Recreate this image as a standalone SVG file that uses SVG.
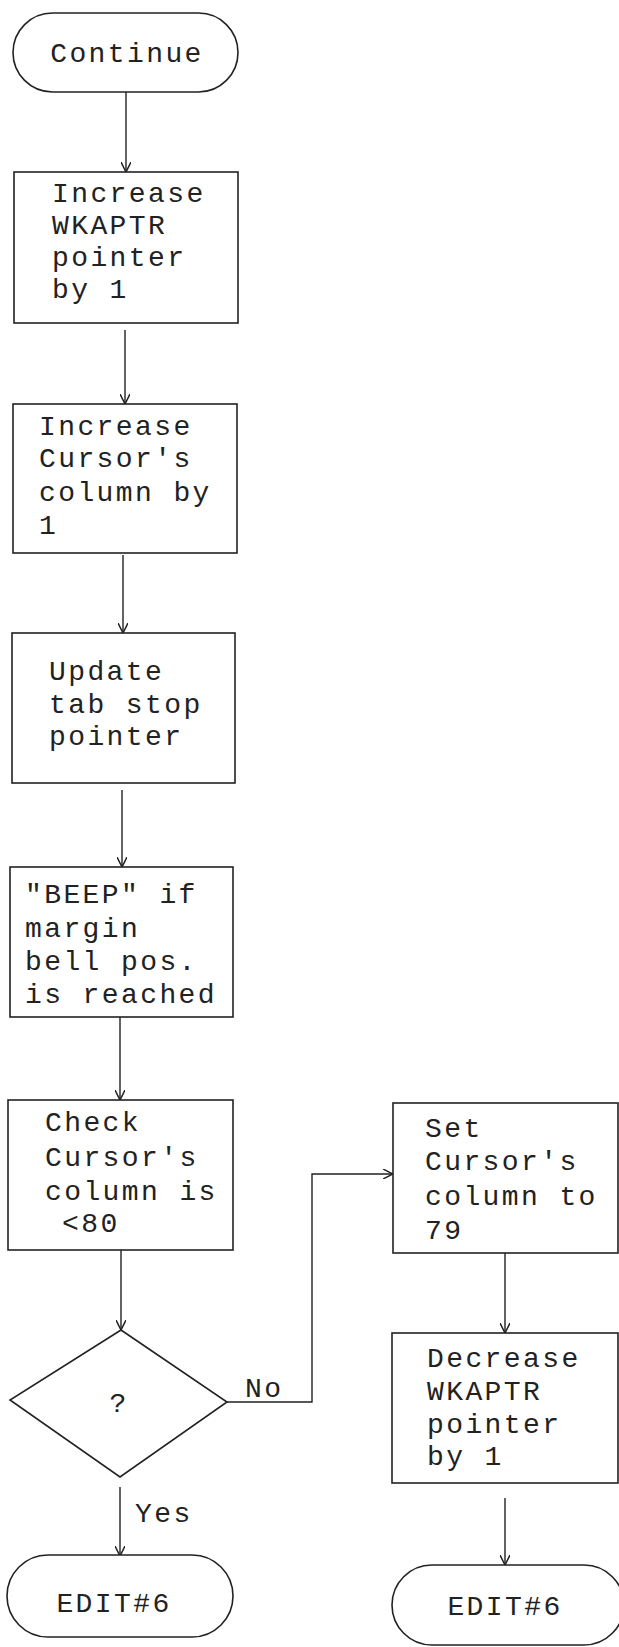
<svg xmlns="http://www.w3.org/2000/svg" width="619" height="1647" viewBox="0 0 619 1647">
<style>
.s{fill:#fff;stroke:#222;stroke-width:1.6}
.t{font-family:"Liberation Mono","DejaVu Sans Mono",monospace;font-size:28px;letter-spacing:2.4px;fill:#222}
.c{fill:none;stroke:#222;stroke-width:1.4}
</style>
<defs>
<marker id="ah" viewBox="0 0 10 10" refX="10" refY="5" markerWidth="10" markerHeight="10" markerUnits="userSpaceOnUse" orient="auto">
<path d="M0,0 L10,5 L0,10" fill="none" stroke="#222" stroke-width="1.5"/>
</marker>
</defs>
<rect width="619" height="1647" fill="#fff"/>
<g id="connectors">
<line class="c" x1="126" y1="92" x2="126" y2="172" marker-end="url(#ah)"/>
<line class="c" x1="125" y1="330" x2="125" y2="404" marker-end="url(#ah)"/>
<line class="c" x1="123" y1="555" x2="123" y2="633" marker-end="url(#ah)"/>
<line class="c" x1="122" y1="790" x2="122" y2="867" marker-end="url(#ah)"/>
<line class="c" x1="120" y1="1017" x2="120" y2="1100" marker-end="url(#ah)"/>
<line class="c" x1="121" y1="1250" x2="121" y2="1330" marker-end="url(#ah)"/>
<line class="c" x1="120" y1="1487" x2="120" y2="1556" marker-end="url(#ah)"/>
<polyline class="c" points="227,1402 312,1402 312,1174 393,1174" marker-end="url(#ah)"/>
<line class="c" x1="505" y1="1253" x2="505" y2="1333" marker-end="url(#ah)"/>
<line class="c" x1="505" y1="1498" x2="505" y2="1565" marker-end="url(#ah)"/>
<text class="t" x="245" y="1397">No</text>
<text class="t" x="135" y="1522">Yes</text>
</g>
<g id="continue">
<rect class="s" x="13" y="13" width="225" height="79" rx="39.5"/>
<text class="t" x="127" y="62" text-anchor="middle">Continue</text>
</g>
<g id="box1">
<rect class="s" x="14" y="172" width="224" height="151"/>
<text class="t" x="52" y="202">Increase</text>
<text class="t" x="52" y="234">WKAPTR</text>
<text class="t" x="52" y="266">pointer</text>
<text class="t" x="52" y="298">by 1</text>
</g>
<g id="box2">
<rect class="s" x="13" y="404" width="224" height="149"/>
<text class="t" x="39" y="435">Increase</text>
<text class="t" x="39" y="467">Cursor's</text>
<text class="t" x="39" y="501">column by</text>
<text class="t" x="39" y="534">1</text>
</g>
<g id="box3">
<rect class="s" x="12" y="633" width="223" height="150"/>
<text class="t" x="49" y="680">Update</text>
<text class="t" x="49" y="713">tab stop</text>
<text class="t" x="49" y="745">pointer</text>
</g>
<g id="box4">
<rect class="s" x="10" y="867" width="223" height="150"/>
<text class="t" x="25" y="903">"BEEP" if</text>
<text class="t" x="25" y="937">margin</text>
<text class="t" x="25" y="970">bell pos.</text>
<text class="t" x="25" y="1003">is reached</text>
</g>
<g id="box5">
<rect class="s" x="8" y="1100" width="225" height="150"/>
<text class="t" x="45" y="1131">Check</text>
<text class="t" x="45" y="1166">Cursor's</text>
<text class="t" x="45" y="1200">column is</text>
<text class="t" x="62" y="1232">&lt;80</text>
</g>
<g id="decision">
<polygon class="s" points="121,1330 227,1402 120,1477 10,1400"/>
<text class="t" x="119" y="1412" text-anchor="middle">?</text>
</g>
<g id="edit1">
<rect class="s" x="7" y="1555" width="226" height="82" rx="41"/>
<text class="t" x="114" y="1612" text-anchor="middle">EDIT#6</text>
</g>
<g id="box6">
<rect class="s" x="393" y="1103" width="225" height="150"/>
<text class="t" x="425" y="1137">Set</text>
<text class="t" x="425" y="1170">Cursor's</text>
<text class="t" x="425" y="1205">column to</text>
<text class="t" x="425" y="1239">79</text>
</g>
<g id="box7">
<rect class="s" x="392" y="1333" width="226" height="150"/>
<text class="t" x="427" y="1367">Decrease</text>
<text class="t" x="427" y="1400">WKAPTR</text>
<text class="t" x="427" y="1433">pointer</text>
<text class="t" x="427" y="1465">by 1</text>
</g>
<g id="edit2">
<rect class="s" x="392" y="1565" width="232" height="80" rx="40"/>
<text class="t" x="505" y="1615" text-anchor="middle">EDIT#6</text>
</g>
</svg>
